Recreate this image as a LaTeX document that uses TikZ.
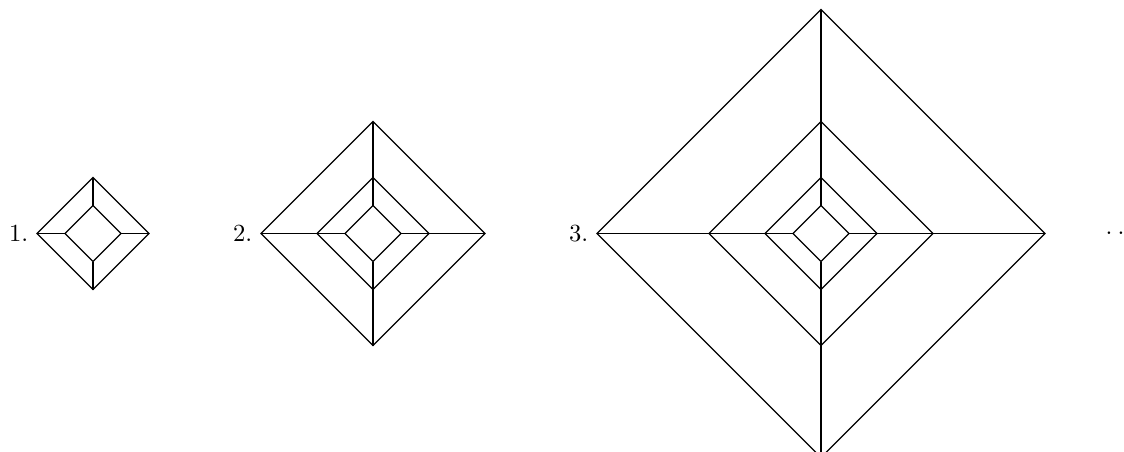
\documentclass[tikz,border=0pt]{standalone}
\usepackage{tikz}
\usetikzlibrary{positioning}

\begin{document}
\begin{tikzpicture}[x=0.4cm, y=0.4cm, line width=0.5pt]
    \useasboundingbox (-3.32,-7.80) rectangle (36.82,8.34);

    % first figure
    \foreach \r in {1,2}
        \draw (-\r,0) -- (0,\r) -- (\r,0) -- (0,-\r) -- cycle;
    \draw (-2,0) -- (-1,0) (1,0) -- (2,0) (0,1) -- (0,2) (0,-1) -- (0,-2);
    \node[left] (one) at (-2,0) {1.};

    % second figure
    \begin{scope}[shift={(10,0)}]
        \foreach \r in {1,2,4}
            \draw (-\r,0) -- (0,\r) -- (\r,0) -- (0,-\r) -- cycle;
        \draw (-4,0) -- (-1,0) (1,0) -- (4,0) (0,1) -- (0,4) (0,-1) -- (0,-4);
        \node[left] (two) at (-4,0) {2.};
    \end{scope}

    % third figure
    \begin{scope}[shift={(26,0)}]
        \foreach \r in {1,2,4,8}
            \draw (-\r,0) -- (0,\r) -- (\r,0) -- (0,-\r) -- cycle;
        \draw (-8,0) -- (-1,0) (1,0) -- (8,0) (0,1) -- (0,8) (0,-1) -- (0,-8);
        \node[left] (three) at (-8,0) {3.};
    \end{scope}

    \node[right] (more) at (35.85,0) {.\hspace{2.1pt}.\hspace{2.1pt}.};
\end{tikzpicture}
\end{document}
